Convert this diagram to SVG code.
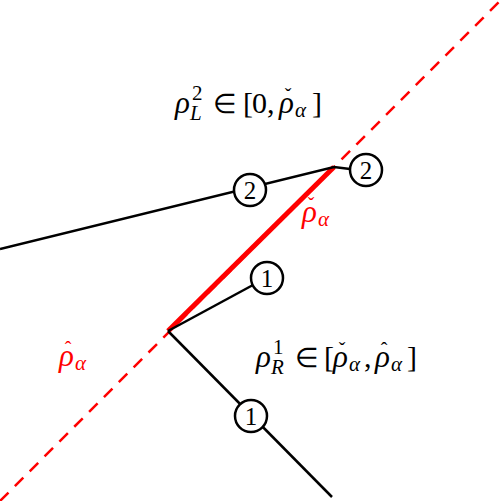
<svg xmlns="http://www.w3.org/2000/svg" width="501" height="501" viewBox="0 0 501 501">
<defs>
<style>
.bl{stroke:#000;stroke-width:2.5;fill:none}
.c{stroke:#000;stroke-width:2.5;fill:#fff}
</style>
</defs>
<rect width="501" height="501" fill="#fff"/>
<g id="connectors">
<line x1="0" y1="501" x2="501" y2="0" stroke="#ff0000" stroke-width="2.5" stroke-dasharray="12,9"/>
<line x1="168" y1="331" x2="334" y2="167" stroke="#ff0000" stroke-width="5"/>
<polyline class="bl" points="0,249 334,167 350,169"/>
<line class="bl" x1="168" y1="331" x2="253" y2="285"/>
<line class="bl" x1="168" y1="331" x2="332" y2="497"/>
</g>
<g id="n2a"><circle class="c" cx="250" cy="190" r="16"/><text x="250" y="198.5" font-family="Liberation Serif" font-size="25" text-anchor="middle">2</text></g>
<g id="n2b"><circle class="c" cx="366" cy="170" r="16"/><text x="366" y="178.5" font-family="Liberation Serif" font-size="25" text-anchor="middle">2</text></g>
<g id="n1a"><circle class="c" cx="267" cy="278" r="16"/><text x="267" y="286.5" font-family="Liberation Serif" font-size="25" text-anchor="middle">1</text></g>
<g id="n1b"><circle class="c" cx="251" cy="416" r="16"/><text x="251" y="424.5" font-family="Liberation Serif" font-size="25" text-anchor="middle">1</text></g>
<g id="labelL">
<text x="175" y="113" font-family="Liberation Serif" font-size="31" font-style="italic">ρ</text>
<text x="192" y="100" font-family="Liberation Serif" font-size="21">2</text>
<text x="190" y="120" font-family="Liberation Serif" font-size="21" font-style="italic">L</text>
<text x="213" y="113" font-family="Liberation Serif" font-size="27">∈</text>
<text x="243" y="113" font-family="Liberation Serif" font-size="30">[</text>
<text x="252" y="113" font-family="Liberation Serif" font-size="30">0</text>
<text x="267" y="113" font-family="Liberation Serif" font-size="30">,</text>
<text x="279" y="113" font-family="Liberation Serif" font-size="31" font-style="italic">ρ</text>
<text x="288" y="103" font-family="Liberation Serif" font-size="20" text-anchor="middle">ˇ</text>
<text x="295" y="117" font-family="Liberation Serif" font-size="21" font-style="italic">α</text>
<text x="312" y="113" font-family="Liberation Serif" font-size="30">]</text>
</g>
<g id="labelR">
<text x="256" y="367" font-family="Liberation Serif" font-size="31" font-style="italic">ρ</text>
<text x="273" y="354" font-family="Liberation Serif" font-size="21">1</text>
<text x="271" y="374" font-family="Liberation Serif" font-size="21" font-style="italic">R</text>
<text x="295" y="367" font-family="Liberation Serif" font-size="27">∈</text>
<text x="324" y="367" font-family="Liberation Serif" font-size="30">[</text>
<text x="333" y="367" font-family="Liberation Serif" font-size="31" font-style="italic">ρ</text>
<text x="342" y="357" font-family="Liberation Serif" font-size="20" text-anchor="middle">ˇ</text>
<text x="349" y="371" font-family="Liberation Serif" font-size="21" font-style="italic">α</text>
<text x="364" y="367" font-family="Liberation Serif" font-size="30">,</text>
<text x="375" y="367" font-family="Liberation Serif" font-size="31" font-style="italic">ρ</text>
<text x="384" y="357" font-family="Liberation Serif" font-size="20" text-anchor="middle">ˆ</text>
<text x="391" y="371" font-family="Liberation Serif" font-size="21" font-style="italic">α</text>
<text x="407" y="367" font-family="Liberation Serif" font-size="30">]</text>
</g>
<g id="labelCheck" fill="#ff0000">
<text x="302" y="222" font-family="Liberation Serif" font-size="31" font-style="italic">ρ</text>
<text x="311" y="212" font-family="Liberation Serif" font-size="20" text-anchor="middle">ˇ</text>
<text x="318" y="226" font-family="Liberation Serif" font-size="21" font-style="italic">α</text>
</g>
<g id="labelHat" fill="#ff0000">
<text x="59" y="366" font-family="Liberation Serif" font-size="31" font-style="italic">ρ</text>
<text x="68" y="356" font-family="Liberation Serif" font-size="20" text-anchor="middle">ˆ</text>
<text x="75" y="370" font-family="Liberation Serif" font-size="21" font-style="italic">α</text>
</g>
</svg>
